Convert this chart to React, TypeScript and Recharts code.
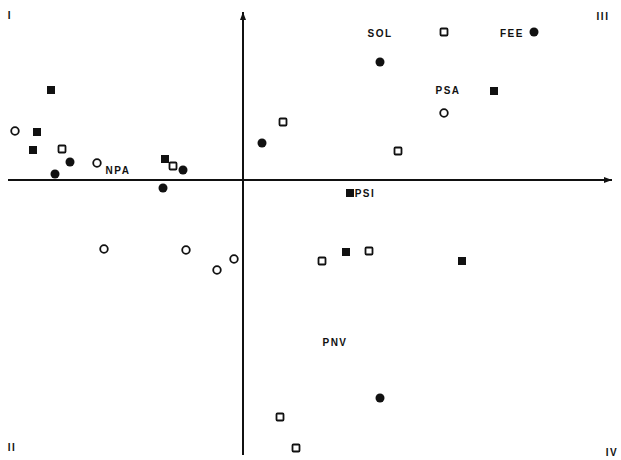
import { ScatterChart, Scatter, XAxis, YAxis, ReferenceLine } from 'recharts'

// plotted positions, arbitrary units (origin where the two axes cross)
const filledCircles = [
  { x: -18.8, y: 0.6 },
  { x: -17.3, y: 1.8 },
  { x: -6.0, y: 1.0 },
  { x: -8.0, y: -0.8 },
  { x: 1.9, y: 3.7 },
  { x: 13.7, y: 11.8 },
  { x: 29.1, y: 14.8 },
  { x: 13.7, y: -21.8 },
]

const openCircles = [
  { x: -22.8, y: 4.9 },
  { x: -14.6, y: 1.7 },
  { x: 20.1, y: 6.7 },
  { x: -13.9, y: -6.9 },
  { x: -5.7, y: -7.0 },
  { x: -2.6, y: -9.0 },
  { x: -0.9, y: -7.9 },
]

const filledSquares = [
  { x: -19.2, y: 9.0 },
  { x: -20.6, y: 4.8 },
  { x: -21.0, y: 3.0 },
  { x: -7.8, y: 2.1 },
  { x: 25.1, y: 8.9 },
  { x: 10.7, y: -1.3 },
  { x: 10.3, y: -7.2 },
  { x: 21.9, y: -8.1 },
]

const openSquares = [
  { x: -18.1, y: 3.1 },
  { x: -7.0, y: 1.4 },
  { x: 4.0, y: 5.8 },
  { x: 20.1, y: 14.8 },
  { x: 15.5, y: 2.9 },
  { x: 7.9, y: -8.1 },
  { x: 12.6, y: -7.1 },
  { x: 3.7, y: -23.7 },
  { x: 5.3, y: -26.8 },
]

const groupLabels = [
  { x: 13.7, y: 14.7, text: 'SOL' },
  { x: 26.9, y: 14.7, text: 'FEE' },
  { x: 20.5, y: 9.0, text: 'PSA' },
  { x: -12.5, y: 1.0, text: 'NPA' },
  { x: 12.2, y: -1.3, text: 'PSI' },
  { x: 9.2, y: -16.2, text: 'PNV' },
]

const quadrantLabels = [
  { x: -23.3, y: 16.5, text: 'I' },
  { x: 36.0, y: 16.4, text: 'III' },
  { x: -23.1, y: -26.7, text: 'II' },
  { x: 36.9, y: -27.2, text: 'IV' },
]

const font = '"Liberation Sans", Arial, sans-serif'

const FilledCircle = (p: any) => <circle cx={p.cx} cy={p.cy} r={4.5} fill="#111" />
const OpenCircle = (p: any) => (
  <circle cx={p.cx} cy={p.cy} r={3.8} fill="#fff" stroke="#111" strokeWidth={1.8} />
)
const FilledSquare = (p: any) => <rect x={p.cx - 4} y={p.cy - 4} width={8} height={8} fill="#111" />
const OpenSquare = (p: any) => (
  <rect x={p.cx - 3.5} y={p.cy - 3.5} width={7} height={7} rx={1} fill="#fff" stroke="#111" strokeWidth={1.8} />
)

const Label = (p: any) => (
  <text
    x={p.cx}
    y={p.cy}
    textAnchor="middle"
    dominantBaseline="central"
    fontFamily={font}
    fontWeight="bold"
    fontSize={10}
    letterSpacing={1.5}
    fill="#111"
  >
    {p.payload.text}
  </text>
)

const Arrow = (p: any) => {
  const { x1, y1, x2, y2 } = p
  const len = Math.hypot(x2 - x1, y2 - y1) || 1
  const ux = (x2 - x1) / len
  const uy = (y2 - y1) / len
  const bx = x2 - ux * 8
  const by = y2 - uy * 8
  return (
    <g>
      <line x1={x1} y1={y1} x2={x2} y2={y2} stroke="#111" strokeWidth={2} />
      <polygon
        points={`${x2},${y2} ${bx - uy * 3},${by + ux * 3} ${bx + uy * 3},${by - ux * 3}`}
        fill="#111"
      />
    </g>
  )
}

export default function App() {
  return (
    <div style={{ position: 'absolute', left: 0, top: 0, background: '#fff' }}>
      <ScatterChart width={621} height={460} margin={{ top: 0, right: 0, bottom: 0, left: 0 }}>
        <XAxis type="number" dataKey="x" domain={[-24.3, 37.8]} hide />
        <YAxis type="number" dataKey="y" domain={[-28, 18]} hide width={0} />
        <ReferenceLine
          segment={[{ x: -23.5, y: 0 }, { x: 36.9, y: 0 }]}
          shape={Arrow}
        />
        <ReferenceLine
          segment={[{ x: 0, y: -27.5 }, { x: 0, y: 16.8 }]}
          shape={Arrow}
        />
        <Scatter data={filledCircles} shape={FilledCircle} isAnimationActive={false} />
        <Scatter data={openCircles} shape={OpenCircle} isAnimationActive={false} />
        <Scatter data={filledSquares} shape={FilledSquare} isAnimationActive={false} />
        <Scatter data={openSquares} shape={OpenSquare} isAnimationActive={false} />
        <Scatter data={groupLabels} shape={Label} isAnimationActive={false} />
        <Scatter data={quadrantLabels} shape={Label} isAnimationActive={false} />
      </ScatterChart>
    </div>
  )
}
